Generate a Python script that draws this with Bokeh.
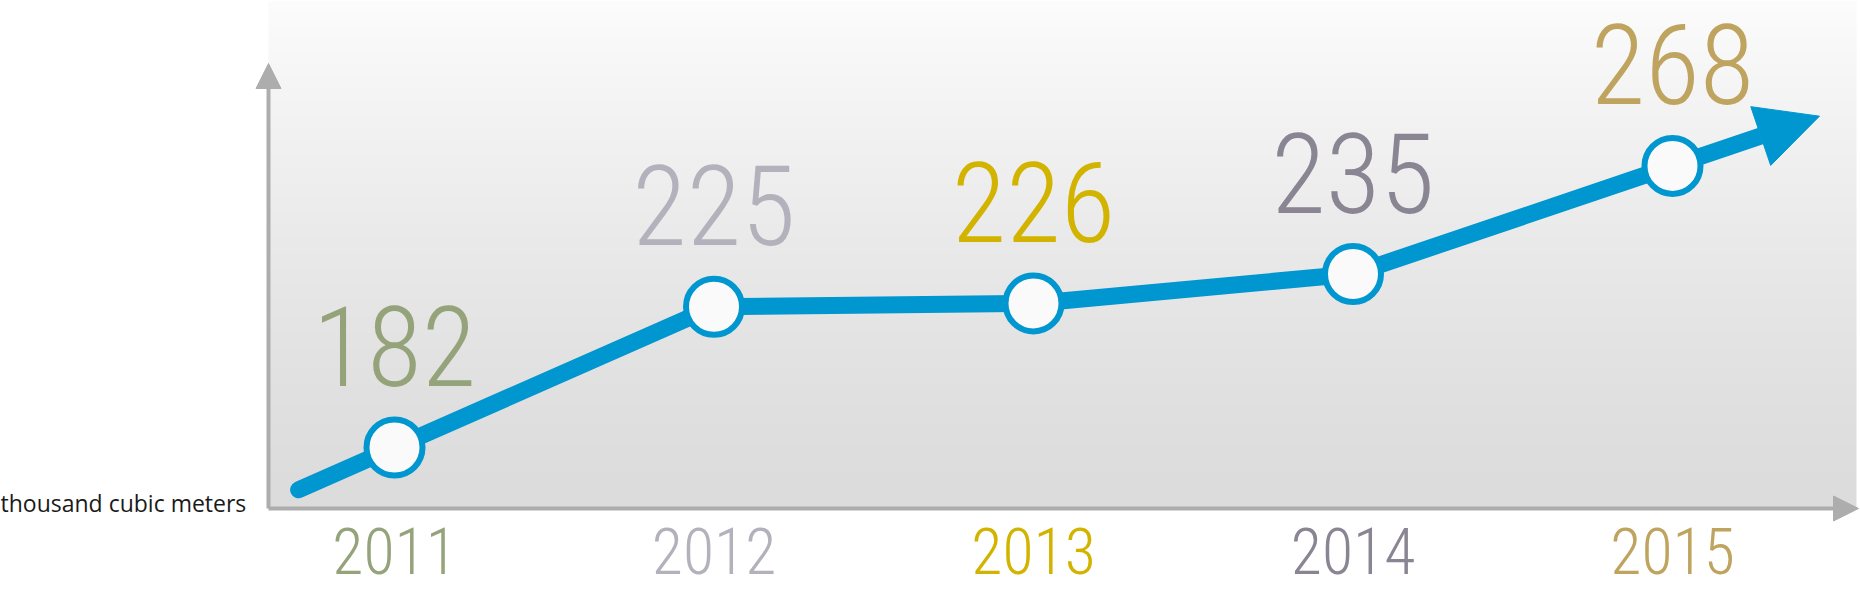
import numpy as np
from bokeh.plotting import figure
from bokeh.models import Arrow, NormalHead, ColumnDataSource, Range1d
from bokeh.core.properties import value
from bokeh.embed import file_html
from bokeh.resources import INLINE

# ---------------- data ----------------
years = [2011, 2012, 2013, 2014, 2015]
volumes = [182, 225, 226, 235, 268]
year_labels = ["2011", "2012", "2013", "2014", "2015"]
value_labels = ["182", "225", "226", "235", "268"]
unit_label = "thousand cubic meters"
label_colors = ["#95a37a", "#b3b2bc", "#d2b400", "#8a8593", "#bfa45f"]

# ---------------- layout / style ----------------
W, H = 1860, 592
BLUE = "#0096d0"
AXIS_GREY = "#adadad"
DIGIT_FONT = value("Roboto Condensed Light")
BASE_SHIFT = 0.37  # em correction for the alphabetic baseline placement

VALUE_SIZE = 112
YEAR_SIZE = 64
UNIT_SIZE = 23

# linear scales (pixels per unit)
X_REF, X_REF_PX, PX_PER_YEAR = 2011, 394, 319.5
Y_REF, Y_REF_PX, PX_PER_UNIT = 227.2, 299, 3.275


def xd(px):
    return X_REF + (px - X_REF_PX) / PX_PER_YEAR


def yd(py):
    return Y_REF + (Y_REF_PX - py) / PX_PER_UNIT


x_range = Range1d(xd(0), xd(W))
y_range = Range1d(yd(H), yd(0))

p = figure(width=W, height=H, x_range=x_range, y_range=y_range,
           output_backend="svg", toolbar_location=None,
           x_axis_type=None, y_axis_type=None, min_border=0,
           outline_line_color=None, background_fill_color="white",
           border_fill_color="white")
p.grid.visible = False

# axis origin (layout)
ax_x, ax_y = xd(268), yd(508)

# gradient panel behind the chart
N = 256
t = np.linspace(0, 1, N)  # 0 bottom -> 1 top
grey = (220 + (252 - 220) * t ** 1.3).astype(np.uint8)
img = np.zeros((N, 2, 4), dtype=np.uint8)
img[:, :, 0] = grey[:, None]
img[:, :, 1] = grey[:, None]
img[:, :, 2] = grey[:, None]
img[:, :, 3] = 255
img32 = img.view(np.uint32).reshape(N, 2)
bg = p.image_rgba(image=[img32], x=ax_x, y=ax_y,
                  dw=xd(1856) - ax_x, dh=y_range.end - ax_y)
bg.level = "image"

# axes with arrow heads
x_axis = Arrow(x_start=ax_x, y_start=ax_y, x_end=xd(1858), y_end=ax_y,
               line_color=AXIS_GREY, line_width=4, level="underlay",
               end=NormalHead(size=25, fill_color=AXIS_GREY, line_color=AXIS_GREY, line_width=1))
y_axis = Arrow(x_start=ax_x, y_start=ax_y, x_end=ax_x, y_end=yd(63),
               line_color=AXIS_GREY, line_width=4, level="underlay",
               end=NormalHead(size=25, fill_color=AXIS_GREY, line_color=AXIS_GREY, line_width=1))
p.add_layout(x_axis)
p.add_layout(y_axis)

src = ColumnDataSource(dict(x=years, y=volumes, vlab=value_labels,
                            ylab=year_labels, color=label_colors,
                            ybase=[y_range.start] * len(years)))

# main trend line, with a short lead-in before the first point
lead = 0.3
x_line = [years[0] - lead * (years[1] - years[0])] + years
y_line = [volumes[0] - lead * (volumes[1] - volumes[0])] + volumes
p.line(x_line, y_line, line_color=BLUE, line_width=17,
       line_cap="round", line_join="round")

# arrow continuing the last segment
ext = 0.46
tip_x = years[-1] + ext * (years[-1] - years[-2])
tip_y = volumes[-1] + ext * (volumes[-1] - volumes[-2])
trend_arrow = Arrow(x_start=years[-1], y_start=volumes[-1], x_end=tip_x, y_end=tip_y,
                    line_color=BLUE, line_width=17, level="underlay",
                    end=NormalHead(size=62, fill_color=BLUE, line_color=BLUE, line_width=1))
p.add_layout(trend_arrow)

# markers
p.scatter("x", "y", source=src, size=56, fill_color="#fafafa",
          line_color=BLUE, line_width=6)

# value labels
p.text("x", "y", text="vlab", source=src, text_color="color",
       text_align="center", text_baseline="alphabetic",
       y_offset=-60 - BASE_SHIFT * VALUE_SIZE,
       text_font=DIGIT_FONT, text_font_size=f"{VALUE_SIZE}px")

# year labels
p.text("x", "ybase", text="ylab", source=src, text_color="color",
       text_align="center", text_baseline="alphabetic",
       y_offset=-18 - BASE_SHIFT * YEAR_SIZE,
       text_font=DIGIT_FONT, text_font_size=f"{YEAR_SIZE}px")

# unit label
p.text(x=[x_range.start], y=[ax_y], text=[unit_label], text_color="#1a1a1a",
       text_align="left", text_baseline="alphabetic",
       y_offset=3 - BASE_SHIFT * UNIT_SIZE,
       text_font=value("Open Sans"), text_font_size=f"{UNIT_SIZE}px")

html = file_html(p, INLINE)
html = html.replace("</head>", "<style>html,body{margin:0;padding:0;overflow:hidden}</style></head>", 1)
open("out.html", "w").write(html)
